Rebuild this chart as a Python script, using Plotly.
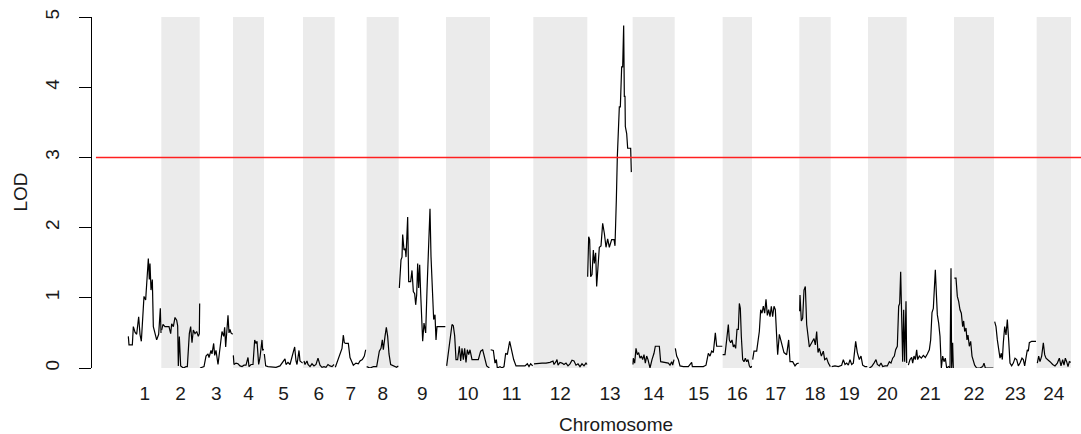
import plotly.graph_objects as go

# ---------------- data ----------------
chromosomes = [str(i) for i in range(1, 25)]
chr_lengths = [99, 115, 100, 93, 117, 95, 96, 96, 142, 132, 130, 162,
               136, 126, 144, 88, 142, 94, 112, 116, 142, 120, 128, 103]
lod_threshold = 3.0
y_ticks = [0, 1, 2, 3, 4, 5]

pos_01 = [0, 2, 12, 15, 20, 25, 31, 35, 39, 47, 52, 55, 60, 63, 65, 68, 72, 75, 80, 85, 91, 96, 98]
lod_01 = [0.45, 0.33, 0.33, 0.59, 0.51, 0.48, 0.73, 0.48, 0.38, 1.02, 0.97, 1.16, 1.56, 1.26, 1.49, 1.11, 1.26, 0.59, 0.48, 0.40, 0.48, 0.85, 0.50]

pos_02 = [1, 5, 11, 23, 28, 31, 36, 41, 46, 49, 51, 54, 58, 66, 74, 78, 84, 88, 92, 96, 101, 106, 111, 114, 115]
lod_02 = [0.54, 0.62, 0.59, 0.59, 0.49, 0.63, 0.59, 0.72, 0.68, 0.60, 0.03, 0.45, 0.03, 0.0, 0.02, 0.02, 0.49, 0.59, 0.36, 0.54, 0.49, 0.52, 0.45, 0.49, 0.92]

pos_03 = [1, 13, 19, 25, 28, 34, 37, 42, 45, 49, 55, 61, 67, 72, 75, 78, 81, 85, 88, 91, 94, 99]
lod_03 = [0.0, 0.02, 0.17, 0.20, 0.15, 0.25, 0.20, 0.35, 0.18, 0.25, 0.05, 0.30, 0.52, 0.45, 0.58, 0.30, 0.55, 0.75, 0.50, 0.55, 0.50, 0.48]

pos_04 = [1, 3, 9, 15, 21, 27, 33, 39, 45, 48, 54, 60, 65, 69, 72, 77, 81, 87, 89, 92]
lod_04 = [0.18, 0.05, 0.07, 0.06, 0.03, 0.02, 0.04, 0.04, 0.15, 0.02, 0.05, 0.05, 0.40, 0.35, 0.38, 0.05, 0.15, 0.40, 0.25, 0.27]

pos_05 = [1, 5, 12, 24, 36, 48, 57, 63, 66, 72, 78, 84, 92, 96, 99, 105, 108, 113, 116]
lod_05 = [0.20, 0.03, 0.02, 0.01, 0.01, 0.03, 0.10, 0.13, 0.05, 0.08, 0.05, 0.15, 0.30, 0.10, 0.05, 0.25, 0.10, 0.08, 0.07]

pos_06 = [3, 6, 12, 15, 21, 27, 33, 39, 45, 51, 57, 63, 69, 75, 81, 87, 93]
lod_06 = [0.10, 0.05, 0.10, 0.05, 0.02, 0.06, 0.03, 0.05, 0.14, 0.04, 0.01, 0.02, 0.01, 0.05, 0.03, 0.02, 0.05]

pos_07 = [2, 11, 16, 22, 26, 29, 33, 41, 46, 51, 56, 64, 71, 76, 83, 89, 93]
lod_07 = [0.01, 0.12, 0.21, 0.28, 0.47, 0.36, 0.35, 0.35, 0.15, 0.10, 0.04, 0.07, 0.06, 0.10, 0.12, 0.17, 0.26]

pos_08 = [0, 10, 20, 30, 38, 43, 47, 50, 55, 59, 63, 67, 72, 80, 90, 95]
lod_08 = [0.02, 0.0, 0.02, 0.02, 0.24, 0.28, 0.40, 0.26, 0.45, 0.58, 0.45, 0.20, 0.05, 0.03, 0.01, 0.03]

pos_09 = [2, 4, 7, 10, 12, 16, 20, 22, 24, 27, 30, 36, 40, 44, 48, 51, 54, 57, 60, 63, 66, 69, 72, 76, 81, 85, 89, 94, 97, 101, 105, 109, 112, 115, 122, 140]
lod_09 = [1.14, 1.40, 1.54, 1.58, 1.90, 1.68, 1.70, 1.58, 1.78, 2.15, 1.23, 1.23, 1.39, 1.09, 1.06, 0.90, 1.04, 1.49, 1.14, 1.47, 1.06, 0.64, 0.38, 0.64, 0.50, 1.11, 1.59, 2.27, 1.59, 1.11, 0.69, 0.76, 0.40, 0.59, 0.59, 0.59]

pos_10 = [2, 8, 14, 18, 22, 26, 30, 35, 40, 44, 48, 52, 56, 60, 64, 68, 72, 78, 97, 104, 110, 116, 122, 130]
lod_10 = [0.03, 0.26, 0.50, 0.62, 0.60, 0.46, 0.12, 0.12, 0.31, 0.10, 0.28, 0.12, 0.28, 0.08, 0.26, 0.19, 0.26, 0.12, 0.12, 0.24, 0.26, 0.14, 0.03, 0.0]

pos_11 = [2, 10, 15, 19, 22, 30, 36, 42, 47, 52, 59, 65, 71, 78, 90, 105, 112, 117, 122, 128]
lod_11 = [0.26, 0.25, 0.07, 0.12, 0.0, 0.02, 0.0, 0.02, 0.21, 0.19, 0.38, 0.26, 0.12, 0.03, 0.03, 0.03, 0.06, 0.02, 0.06, 0.03]

pos_12 = [2, 14, 26, 38, 50, 59, 62, 68, 71, 74, 80, 86, 92, 98, 104, 110, 116, 122, 128, 134, 140, 146, 152, 158, 161]
lod_12 = [0.06, 0.07, 0.07, 0.07, 0.08, 0.10, 0.05, 0.09, 0.12, 0.04, 0.08, 0.07, 0.05, 0.07, 0.03, 0.06, 0.11, 0.10, 0.04, 0.06, 0.02, 0.06, 0.03, 0.07, 0.05]

pos_13 = [1, 4, 7, 10, 14, 18, 21, 25, 28, 32, 36, 41, 46, 51, 56, 61, 66, 73, 80, 83, 85, 87, 90, 93, 96, 99, 101, 103, 106, 109, 111, 113, 114, 118, 121, 130, 132]
lod_13 = [1.30, 1.87, 1.83, 1.30, 1.33, 1.68, 1.49, 1.64, 1.16, 1.49, 1.72, 1.74, 2.06, 1.92, 1.72, 1.84, 1.72, 1.83, 1.83, 1.74, 1.96, 2.39, 3.01, 3.39, 3.72, 3.72, 3.91, 4.29, 4.29, 4.88, 3.87, 3.87, 3.44, 3.34, 3.13, 3.13, 2.79]

pos_14 = [1, 2, 6, 10, 14, 18, 22, 26, 30, 34, 38, 42, 46, 52, 58, 64, 68, 80, 84, 97, 107, 112, 117, 120, 124]
lod_14 = [0.05, 0.14, 0.07, 0.28, 0.19, 0.22, 0.14, 0.17, 0.12, 0.19, 0.07, 0.17, 0.12, 0.0, 0.12, 0.21, 0.31, 0.31, 0.09, 0.08, 0.07, 0.04, 0.09, 0.04, 0.12]

pos_15 = [2, 6, 11, 16, 26, 41, 51, 53, 66, 86, 94, 101, 106, 111, 116, 119, 122, 126, 143]
lod_15 = [0.28, 0.17, 0.12, 0.03, 0.02, 0.02, 0.08, 0.02, 0.02, 0.02, 0.04, 0.21, 0.17, 0.24, 0.22, 0.36, 0.50, 0.31, 0.31]

pos_16 = [0, 7, 12, 17, 20, 24, 28, 32, 35, 39, 43, 47, 50, 53, 56, 60, 64, 68, 72, 76, 80, 84, 87]
lod_16 = [0.19, 0.19, 0.40, 0.62, 0.40, 0.36, 0.40, 0.30, 0.33, 0.28, 0.55, 0.55, 0.92, 0.85, 0.45, 0.12, 0.09, 0.14, 0.09, 0.12, 0.03, 0.0, 0.03]

pos_17 = [2, 6, 14, 18, 22, 26, 30, 34, 38, 42, 46, 50, 54, 58, 62, 66, 70, 74, 77, 82, 89, 96, 104, 110, 114, 122, 129, 134, 140]
lod_17 = [0.12, 0.24, 0.24, 0.40, 0.52, 0.83, 0.78, 0.88, 0.78, 0.98, 0.75, 0.83, 0.73, 0.88, 0.73, 0.88, 0.83, 0.45, 0.19, 0.48, 0.36, 0.22, 0.19, 0.40, 0.09, 0.09, 0.03, 0.06, 0.07]

pos_18 = [1, 2, 6, 10, 14, 18, 22, 26, 30, 37, 44, 48, 52, 56, 60, 66, 72, 76, 82, 87, 93]
lod_18 = [0.81, 1.04, 0.67, 0.71, 1.11, 1.16, 0.62, 0.40, 0.30, 0.36, 0.42, 0.33, 0.52, 0.22, 0.28, 0.17, 0.24, 0.12, 0.14, 0.07, 0.02]

pos_19 = [3, 13, 23, 33, 38, 43, 48, 53, 58, 63, 68, 75, 80, 86, 91, 96, 103, 110]
lod_19 = [0.02, 0.03, 0.02, 0.04, 0.12, 0.05, 0.07, 0.04, 0.12, 0.05, 0.07, 0.38, 0.22, 0.12, 0.17, 0.04, 0.02, 0.02]

pos_20 = [4, 11, 18, 24, 28, 34, 39, 44, 51, 58, 64, 69, 74, 79, 83, 88, 92, 95, 98, 101, 104, 107, 110, 114, 116]
lod_20 = [0.0, 0.02, 0.07, 0.12, 0.05, 0.03, 0.07, 0.02, 0.03, 0.03, 0.09, 0.07, 0.14, 0.17, 0.26, 0.31, 0.88, 0.92, 1.37, 0.83, 0.09, 0.83, 0.09, 0.95, 0.07]

pos_21 = [5, 10, 15, 18, 22, 26, 30, 33, 38, 44, 50, 56, 62, 68, 72, 76, 80, 83, 86, 89, 92, 96, 100, 104, 108, 112, 116, 120, 126, 130, 133, 135, 138, 140]
lod_21 = [0.04, 0.12, 0.15, 0.07, 0.17, 0.12, 0.26, 0.12, 0.17, 0.14, 0.18, 0.15, 0.20, 0.26, 0.40, 0.79, 0.85, 1.16, 1.40, 1.07, 0.76, 0.64, 0.45, 0.0, 0.17, 0.09, 0.14, 0.0, 0.02, 0.0, 1.42, 0.0, 0.36, 0.0]

pos_22 = [1, 6, 10, 14, 18, 22, 26, 29, 32, 36, 39, 42, 46, 50, 54, 58, 62, 68, 78, 86, 90, 94, 118]
lod_22 = [1.28, 1.28, 1.02, 0.95, 0.83, 0.78, 0.59, 0.67, 0.52, 0.57, 0.40, 0.47, 0.31, 0.38, 0.17, 0.12, 0.04, 0.0, 0.0, 0.02, 0.07, 0.0, 0.0]

pos_23 = [2, 6, 10, 14, 18, 22, 25, 28, 32, 36, 40, 44, 48, 53, 58, 63, 68, 73, 78, 84, 88, 92, 96, 100, 103, 106, 113, 126]
lod_23 = [0.66, 0.59, 0.40, 0.26, 0.14, 0.21, 0.12, 0.36, 0.59, 0.47, 0.69, 0.40, 0.07, 0.03, 0.07, 0.14, 0.12, 0.03, 0.07, 0.14, 0.12, 0.03, 0.17, 0.26, 0.24, 0.36, 0.38, 0.38]

pos_24 = [2, 6, 10, 15, 20, 24, 28, 34, 40, 48, 55, 62, 68, 73, 78, 82, 86, 90, 94, 98, 102]
lod_24 = [0.07, 0.17, 0.09, 0.17, 0.36, 0.19, 0.14, 0.12, 0.09, 0.05, 0.03, 0.07, 0.14, 0.03, 0.12, 0.04, 0.14, 0.09, 0.02, 0.09, 0.08]

positions = [pos_01, pos_02, pos_03, pos_04, pos_05, pos_06, pos_07, pos_08,
             pos_09, pos_10, pos_11, pos_12, pos_13, pos_14, pos_15, pos_16,
             pos_17, pos_18, pos_19, pos_20, pos_21, pos_22, pos_23, pos_24]
lods = [lod_01, lod_02, lod_03, lod_04, lod_05, lod_06, lod_07, lod_08,
        lod_09, lod_10, lod_11, lod_12, lod_13, lod_14, lod_15, lod_16,
        lod_17, lod_18, lod_19, lod_20, lod_21, lod_22, lod_23, lod_24]

# ---------------- layout helpers ----------------
starts = []
acc = 0
for L in chr_lengths:
    starts.append(acc)
    acc += L
mids = [s + L / 2 for s, L in zip(starts, chr_lengths)]

FONT = "Liberation Sans, Arial, Helvetica, sans-serif"
TXT = "#1a1a1a"

fig = go.Figure()

shapes = []
for i, (s, L) in enumerate(zip(starts, chr_lengths)):
    if (i + 1) % 2 == 0:
        shapes.append(dict(type="rect", xref="x", yref="paper", x0=s, x1=s + L,
                           y0=0, y1=1, fillcolor="#EBEBEB", line=dict(width=0),
                           layer="below"))
shapes.append(dict(type="line", xref="paper", yref="y", x0=0.004, x1=1,
                   y0=lod_threshold, y1=lod_threshold,
                   line=dict(color="#FF2020", width=1.5)))

for s, p, l in zip(starts, positions, lods):
    fig.add_trace(go.Scatter(x=[s + v for v in p], y=l, mode="lines",
                             line=dict(color="black", width=1.2),
                             showlegend=False, hoverinfo="skip"))

fig.update_layout(
    width=1081, height=434,
    margin=dict(l=92, r=0, t=17, b=66, autoexpand=False),
    plot_bgcolor="white", paper_bgcolor="white",
    font=dict(family=FONT, size=19, color=TXT),
    shapes=shapes,
    xaxis=dict(range=[-109, 2858], tickvals=mids, ticktext=chromosomes,
               showline=False, ticks="", showgrid=False, zeroline=False,
               automargin=False,
               tickfont=dict(size=19, color=TXT), ticklabelstandoff=12),
    yaxis=dict(range=[0, 5], tickvals=y_ticks, ticks="outside", ticklen=12,
               tickwidth=1, tickcolor="black", showline=True, linecolor="black",
               linewidth=1, showgrid=False, zeroline=False, tickangle=-90,
               automargin=False,
               tickfont=dict(size=19, color=TXT), ticklabelstandoff=12),
    annotations=[
        dict(text="Chromosome", xref="paper", yref="paper", x=(616 - 92) / 989,
             y=0, yshift=-56, xanchor="center", yanchor="middle",
             showarrow=False, font=dict(size=19, color=TXT)),
        dict(text="LOD", xref="paper", yref="paper", x=0, xshift=-72, y=0.5,
             xanchor="center", yanchor="middle", textangle=-90,
             showarrow=False, font=dict(size=19, color=TXT)),
    ],
)

fig.write_html("out.html",
               config={"displayModeBar": False},
               post_script="document.body.style.margin='0';"
                           "document.body.style.overflow='hidden';")
